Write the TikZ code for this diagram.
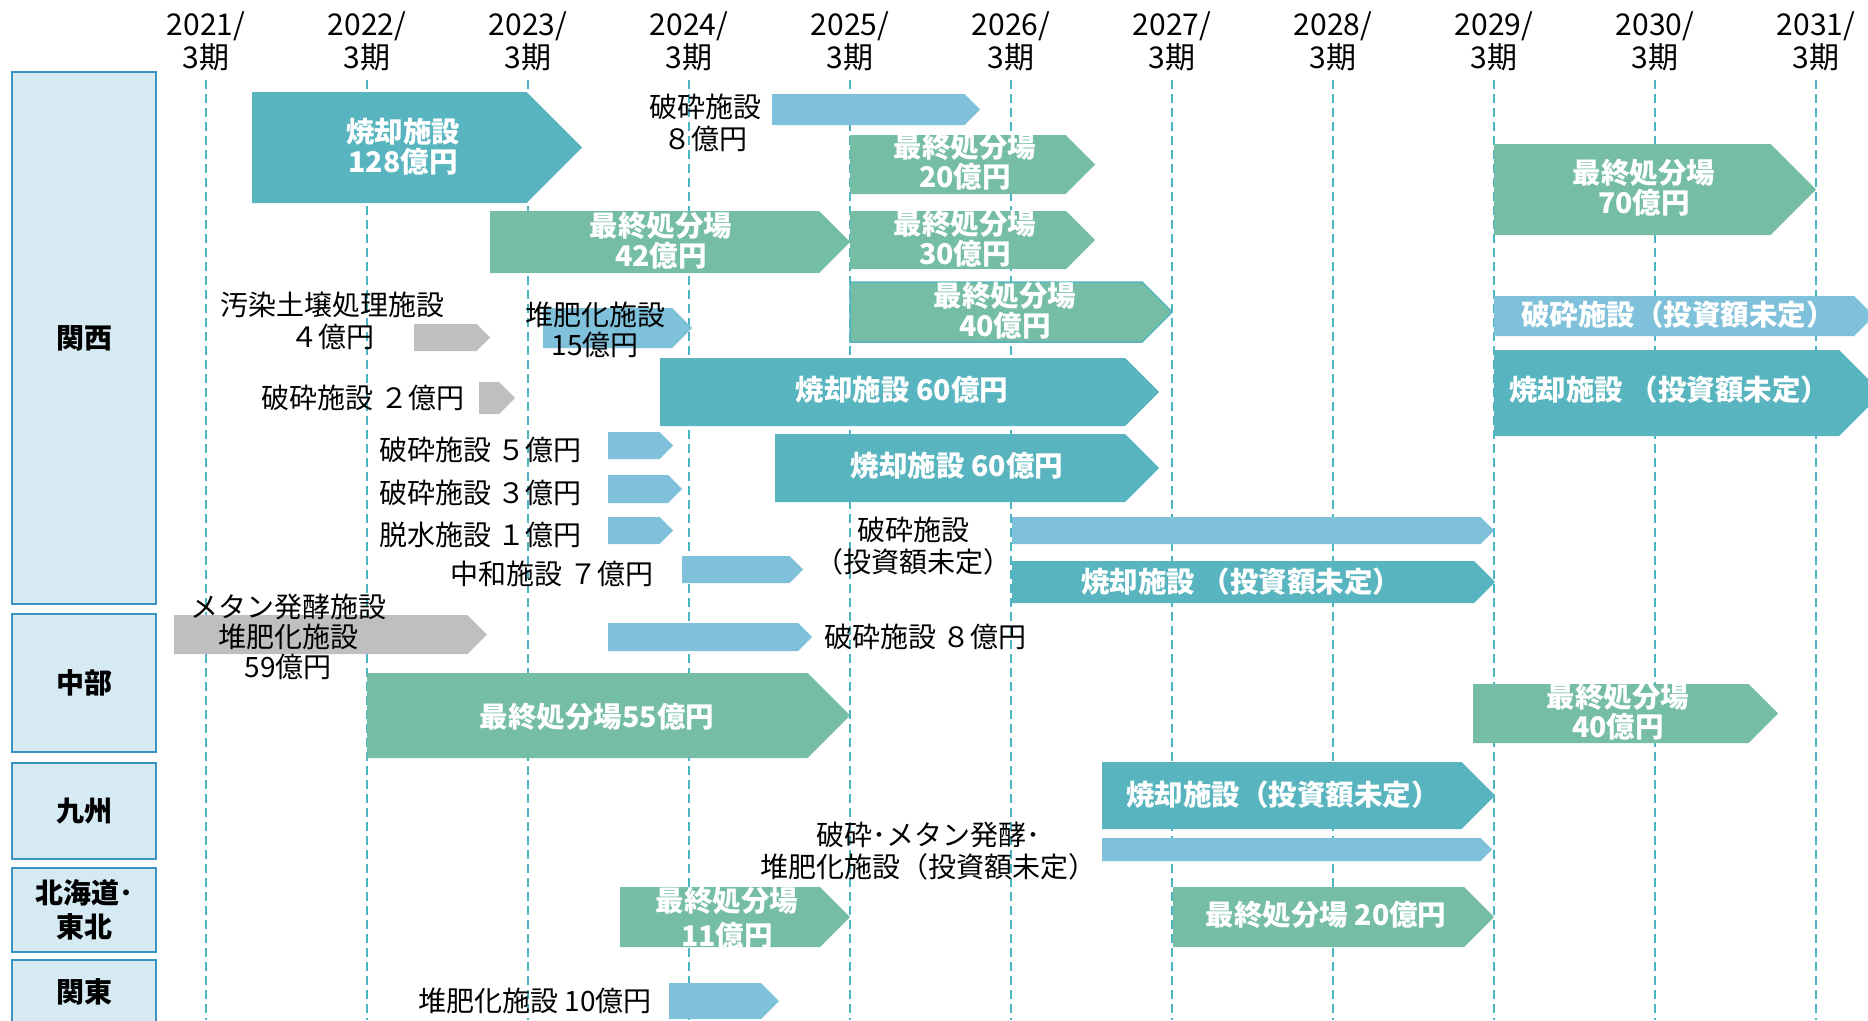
\documentclass[tikz,border=0pt]{standalone}
\usepackage{fontspec}
\setmainfont{Noto Sans CJK JP}
\usepackage{tikz}
\usetikzlibrary{positioning,calc}
\definecolor{incin}{HTML}{58B5BF}
\definecolor{landfill}{HTML}{75BDA5}
\definecolor{crush}{HTML}{7FC0DA}
\definecolor{othergray}{HTML}{BFBFBF}
\definecolor{regfill}{HTML}{D5EAF3}
\definecolor{regline}{HTML}{3A94C2}
\definecolor{gridc}{HTML}{4BB5C3}
% chevron bar: [style]{left}{tip}{top}{bottom}
\newcommand{\facbar}[5][]{%
  \fill[#1] (#2,#4) -- ({#3-(#5-#4)/2},#4) -- (#3,{(#4+#5)/2}) -- ({#3-(#5-#4)/2},#5) -- (#2,#5) -- cycle;}

\begin{document}
\begin{tikzpicture}[x = 1pt, y = -1pt,
    lbl/.style = {font = \fontsize{28}{32}\selectfont, inner sep = 0pt, align = center},
    wlbl/.style = {font = \fontsize{28.5}{30}\selectfont\bfseries, text = white, inner sep = 0pt, align = center},
    yr/.style = {font = \fontsize{30}{33}\selectfont, inner sep = 0pt, align = center},
    region/.style = {draw = regline, fill = regfill, line width = 2.5pt, minimum width = 144pt, inner sep = 0pt, align = center, font = \fontsize{28}{34}\selectfont\bfseries},
    yearline/.style = {gridc, line width = 1.6pt, dash pattern = on 9pt off 5pt}]
    \useasboundingbox (0,0) rectangle (1868,1020);
    \clip (0,0) rectangle (1868,1020);
    %%%%%%%%%% years
    \node[yr] (y2021) at (206,41) {2021/\\3期};
    \node[yr] (y2022) at (367,41) {2022/\\3期};
    \node[yr] (y2023) at (528,41) {2023/\\3期};
    \node[yr] (y2024) at (689,41) {2024/\\3期};
    \node[yr] (y2025) at (850,41) {2025/\\3期};
    \node[yr] (y2026) at (1011,41) {2026/\\3期};
    \node[yr] (y2027) at (1172,41) {2027/\\3期};
    \node[yr] (y2028) at (1333,41) {2028/\\3期};
    \node[yr] (y2029) at (1494,41) {2029/\\3期};
    \node[yr] (y2030) at (1655,41) {2030/\\3期};
    \node[yr] (y2031) at (1816,41) {2031/\\3期};
    \draw[yearline] (206,80) -- (206,1020);
    \draw[yearline] (367,80) -- (367,1020);
    \draw[yearline] (528,80) -- (528,1020);
    \draw[yearline] (689,80) -- (689,1020);
    \draw[yearline] (850,80) -- (850,1020);
    \draw[yearline] (1011,80) -- (1011,1020);
    \draw[yearline] (1172,80) -- (1172,1020);
    \draw[yearline] (1333,80) -- (1333,1020);
    \draw[yearline] (1494,80) -- (1494,1020);
    \draw[yearline] (1655,80) -- (1655,1020);
    \draw[yearline] (1816,80) -- (1816,1020);
    %%%%%%%%%% regions
    \node[region, minimum height = 532pt] (kansai) at (84,338) {関西};
    \node[region, minimum height = 138pt] (chubu) at (84,683) {中部};
    \node[region, minimum height = 96pt] (kyushu) at (84,811) {九州};
    \node[region, minimum height = 84pt] (tohoku) at (84,910) {北海道･\\東北};
    \node[region, minimum height = 64pt] (kanto) at (84,992) {関東};
    %%%%%%%%%% Kansai bars
    \facbar[fill = incin]{252}{582}{92}{203}
    \facbar[fill = crush]{772}{980}{94}{125}
    \facbar[fill = landfill]{850}{1095}{135}{194}
    \facbar[fill = landfill]{490}{850}{211}{273}
    \facbar[fill = landfill]{850}{1095}{211}{269}
    \facbar[fill = landfill, draw = incin, line width = 1.5pt]{850}{1172}{282}{342}
    \facbar[fill = landfill]{1494}{1816}{144}{235}
    \facbar[fill = crush]{1494}{1874}{296}{336}
    \facbar[fill = incin]{1494}{1882}{350}{436}
    \facbar[fill = incin]{660}{1159}{358}{426}
    \facbar[fill = incin]{775}{1159}{434}{502}
    \facbar[fill = othergray]{414}{490}{324}{351}
    \facbar[fill = crush]{543}{692}{308}{348}
    \facbar[fill = othergray]{479}{515}{382}{414}
    \facbar[fill = crush]{608}{673}{432}{459}
    \facbar[fill = crush]{608}{682}{475}{503}
    \facbar[fill = crush]{608}{673}{517}{544}
    \facbar[fill = crush]{682}{803}{556}{583}
    \facbar[fill = crush]{1012}{1494}{517}{544}
    \facbar[fill = incin]{1012}{1495}{561}{603}
    %%%%%%%%%% Chubu, Kyushu, Hokkaido-Tohoku, Kanto bars
    \facbar[fill = othergray]{174}{487}{615}{654}
    \facbar[fill = crush]{608}{812}{623}{651}
    \facbar[fill = landfill]{367}{850}{673}{758}
    \facbar[fill = landfill]{1473}{1778}{684}{743}
    \facbar[fill = incin]{1102}{1495}{762}{829}
    \facbar[fill = crush]{1102}{1492}{838}{861}
    \facbar[fill = landfill]{1173}{1494}{887}{947}
    \facbar[fill = landfill]{620}{850}{887}{947}
    \facbar[fill = crush]{669}{779}{983}{1019}
    %%%%%%%%%% Kansai labels
    \node[wlbl] (incin128) at (403,147) {焼却施設\\128億円};
    \node[lbl] (crush8) at (705,123) {破砕施設\\８億円};
    \node[wlbl] (land20) at (965,162) {最終処分場\\20億円};
    \node[wlbl] (land42) at (661,241) {最終処分場\\42億円};
    \node[wlbl] (land30) at (965,239) {最終処分場\\30億円};
    \node[wlbl] (land40) at (1005,311) {最終処分場\\40億円};
    \node[wlbl] (land70) at (1644,188) {最終処分場\\70億円};
    \node[wlbl] (crushtbd) at (1678,315) {破砕施設（投資額未定）};
    \node[wlbl] (incintbd) at (1669,390) {焼却施設 （投資額未定）};
    \node[wlbl] (incin60a) at (902,390) {焼却施設 60億円};
    \node[wlbl] (incin60b) at (957,466) {焼却施設 60億円};
    \node[lbl] (soil4) at (332,321) {汚染土壌処理施設\\４億円};
    \node[lbl, font = \fontsize{28}{30}\selectfont] (compost15) at (595,330) {堆肥化施設\\15億円};
    \node[lbl] (crush2) at (363,398) {破砕施設 ２億円};
    \node[lbl, anchor = west] (crush5) at (379,450) {破砕施設 ５億円};
    \node[lbl, anchor = west] (crush3) at (379,493) {破砕施設 ３億円};
    \node[lbl, anchor = west] (dewater1) at (379,535) {脱水施設 １億円};
    \node[lbl] (neutral7) at (552,574) {中和施設 ７億円};
    \node[lbl] (crushtbd2) at (913,546) {破砕施設\\（投資額未定）};
    \node[wlbl] (incintbd2) at (1241,582) {焼却施設 （投資額未定）};
    %%%%%%%%%% other regions labels
    \node[lbl, font = \fontsize{28}{30}\selectfont] (methane59) at (288,637) {メタン発酵施設\\堆肥化施設\\59億円};
    \node[lbl, anchor = west] (crush8b) at (824,637) {破砕施設 ８億円};
    \node[wlbl] (land55) at (597,717) {最終処分場55億円};
    \node[wlbl] (land40b) at (1618,712) {最終処分場\\40億円};
    \node[wlbl] (incintbd3) at (1283,795) {焼却施設（投資額未定）};
    \node[lbl] (mixtbd) at (928,851) {破砕･メタン発酵･\\堆肥化施設（投資額未定）};
    \node[wlbl] (land20b) at (1326,915) {最終処分場 20億円};
    \node[wlbl] (land11) at (727,918) {最終処分場\\[5pt]11億円};
    \node[lbl, anchor = east] (compost10) at (652,1001) {堆肥化施設 10億円};
\end{tikzpicture}
\end{document}
